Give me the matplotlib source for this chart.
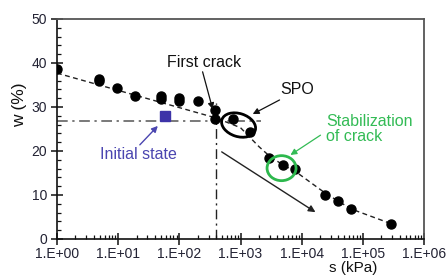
import matplotlib
matplotlib.use("Agg")
import matplotlib.pyplot as plt
import matplotlib.transforms as mtransforms
from matplotlib.patches import Ellipse
from matplotlib.ticker import LogLocator, MultipleLocator, FuncFormatter

plt.rcParams['font.family'] = ['Liberation Sans', 'DejaVu Sans']

# ---- data ----
s_points = [1, 4.8, 4.9, 9.5, 18.7, 50, 50, 98, 98, 200, 380, 380, 742, 1410,
            2880, 4870, 7900, 24500, 40000, 65000, 290000]
w_points = [38.6, 36.3, 35.8, 34.3, 32.5, 32.6, 31.9, 32.1, 31.3, 31.4, 29.3, 27.3,
            27.3, 24.3, 18.4, 16.8, 15.9, 10.0, 8.6, 6.8, 3.4]
trend_s = [1, 400, 1000, 2000, 3000, 5000, 8000, 25000, 65000, 300000]
trend_w = [37.7, 27.5, 25.3, 21.0, 18.8, 16.8, 15.3, 10.3, 6.8, 3.4]
initial_s = [58]
initial_w = [28]
ref_w = 26.9
ref_s = 400
ref_s_end = 2200
xticks = [1e0, 1e1, 1e2, 1e3, 1e4, 1e5, 1e6]
xtick_labels = ['1.E+00', '1.E+01', '1.E+02', '1.E+03', '1.E+04', '1.E+05', '1.E+06']
yticks = [0, 10, 20, 30, 40, 50]

fig = plt.figure(figsize=(4.46, 2.76), dpi=100)
ax = fig.add_axes([57/446, 1-239/276, 367/446, 220/276])

ax.set_xscale('log')
ax.set_xlim(1, 1e6)
ax.set_ylim(0, 50)

# reference dash-dot lines
ax.plot([1, ref_s_end], [ref_w, ref_w], color='#555555', lw=1.1,
        dashes=(7, 3, 1.5, 3), zorder=1)
ax.plot([ref_s, ref_s], [0, 31], color='#222222', lw=1.0,
        dashes=(7, 3, 1.5, 3), zorder=1)

# trend
ax.plot(trend_s, trend_w, color='#222222', lw=1.0, dashes=(3.5, 2.5), zorder=2)
# points
ax.plot(s_points, w_points, 'o', color='black', markersize=6.5, zorder=3)
ax.plot(initial_s, initial_w, 's', color='#3d33a8', markersize=6.5, zorder=3)

# ticks
ax.set_xticks(xticks)
ax.set_xticklabels(xtick_labels)
ax.xaxis.set_minor_locator(LogLocator(base=10, subs=range(2, 10), numticks=20))
ax.xaxis.set_minor_formatter(FuncFormatter(lambda v, p: ''))
ax.set_yticks(yticks)
ax.yaxis.set_minor_locator(MultipleLocator(2))
ax.tick_params(which='major', direction='inout', length=8, width=1.1,
               labelsize=10, colors='#111111', labelcolor='#222233')
ax.tick_params(axis='y', which='major', pad=3)
ax.tick_params(axis='x', which='major', pad=2)
ax.tick_params(which='minor', direction='in', length=3, width=0.9, colors='#111111')
ax.tick_params(top=False, right=False, which='both')

for side in ['left', 'bottom']:
    ax.spines[side].set_color('#111111')
    ax.spines[side].set_linewidth(1.2)
for side in ['top', 'right']:
    ax.spines[side].set_color('#555555')
    ax.spines[side].set_linewidth(1.3)

# labels
fig.text(20/446, 1-105/276, 'w (%)', rotation=90, ha='center', va='center',
         fontsize=12.5, color='#111111')
fig.text(353/446, 0.6/276, 's (kPa)', ha='center', va='bottom',
         fontsize=11, color='#111111')

# annotations: texts
ax.text(258, 40.2, 'First crack', ha='center', va='center', fontsize=11.5, color='#111111')
ax.text(8500, 33.9, 'SPO', ha='center', va='center', fontsize=11.5, color='#111111')
ax.text(10**((327-57)/61.3), 25.0, 'Stabilization\nof crack', ha='left', va='center',
        fontsize=11.5, color='#33bb55', linespacing=1.05)
ax.text(21.8, 19.1, 'Initial state', ha='center', va='center', fontsize=11.5,
        color='#4a45b0')

def arrow(tail, head, color, lw=0.9, ms=9):
    ax.annotate('', xy=head, xytext=tail,
                arrowprops=dict(arrowstyle='-|>', color=color, lw=lw,
                                mutation_scale=ms, shrinkA=0, shrinkB=0))

arrow((240, 38.0), (351, 29.5), '#111111')
arrow((4350, 31.6), (1585, 28.4), '#111111')
arrow((20300, 23.6), (6560, 19.1), '#33bb55')
arrow((22.6, 21.4), (44.5, 25.7), '#4a45b0', lw=1.0)
arrow((493, 19.8), (16800, 6.1), '#222222', lw=1.0, ms=10)

# ellipses in pixel-size units placed at data coords
def add_ellipse(xc, yc, w_in, h_in, ang, color, lw):
    trans = fig.dpi_scale_trans + mtransforms.ScaledTranslation(xc, yc, ax.transData)
    e = Ellipse((0, 0), w_in, h_in, angle=ang, fill=False, edgecolor=color,
                lw=lw, transform=trans, zorder=4)
    ax.add_patch(e)

add_ellipse(930, 25.9, 0.35, 0.23, -18, 'black', 2.0)
add_ellipse(4690, 16.1, 0.29, 0.25, 0, '#2db84d', 2.0)

fig.savefig('out.png', dpi=100)
